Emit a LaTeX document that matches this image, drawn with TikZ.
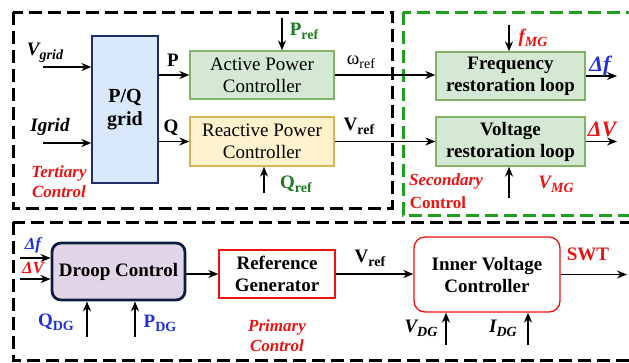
\documentclass[tikz,border=0pt]{standalone}
\usepackage{fontspec}
\setmainfont{Liberation Serif}
\usetikzlibrary{arrows.meta}
\definecolor{gfill}{HTML}{D5E8D4}
\definecolor{gline}{HTML}{82B366}
\definecolor{yfill}{HTML}{FFF2CC}
\definecolor{yline}{HTML}{D6B656}
\definecolor{bfill}{HTML}{DAE8FC}
\definecolor{bline}{HTML}{1F2D6B}
\definecolor{pfill}{HTML}{E1D5E7}
\definecolor{pline}{HTML}{0D1B40}
\definecolor{lred}{HTML}{EE1111}
\definecolor{lgreen}{HTML}{1E7B1E}
\definecolor{lblue}{HTML}{2030E0}
\definecolor{dgreen}{HTML}{1EA01E}
\newcommand\sbs[1]{\raisebox{-0.45ex}{\fontsize{14}{14}\selectfont #1}}
\begin{document}
\begin{tikzpicture}[x=1pt,y=-1pt,
  boxtxt/.style={align=center, inner sep=0pt, font=\fontsize{19}{22}\selectfont},
  gbox/.style={boxtxt, draw=gline, fill=gfill, line width=1.3pt},
  ybox/.style={boxtxt, draw=yline, fill=yfill, line width=1.3pt},
  rbox/.style={boxtxt, draw=lred, fill=white, line width=1.3pt},
  arr/.style={-{Stealth[length=10pt,width=8pt]}, line width=1.4pt},
  lbl/.style={inner sep=0pt, font=\fontsize{19}{22}\selectfont\bfseries},
  blk/.style={draw=black, line width=3pt, dash pattern=on 13pt off 6pt},
  grn/.style={draw=dgreen, line width=3pt, dash pattern=on 13pt off 6pt}]
\useasboundingbox (0,0) rectangle (629,362);
\clip (0,0) rectangle (629,362);
% dashed regions
\draw[blk] (13,12) rectangle (392,208);
\draw[grn] (403,12) rectangle (660,215);
\draw[blk] (13,222) rectangle (660,360);
% blocks
\node[boxtxt, draw=bline, fill=bfill, line width=1.3pt, minimum width=66pt, minimum height=147pt, font=\fontsize{20}{23}\selectfont\bfseries] (pq) at (125,109.5) {P/Q\\grid};
\node[gbox, minimum width=144pt, minimum height=48pt] (apc) at (262,75) {Active Power\\Controller};
\node[ybox, minimum width=144pt, minimum height=49pt] (rpc) at (262,141.5) {Reactive Power\\Controller};
\node[gbox, minimum width=149pt, minimum height=48pt, font=\fontsize{19}{22}\selectfont\bfseries] (frl) at (510.5,76) {Frequency\\restoration loop};
\node[gbox, minimum width=149pt, minimum height=49pt, font=\fontsize{19}{22}\selectfont\bfseries] (vrl) at (510.5,141.5) {Voltage\\restoration loop};
\node[boxtxt, draw=pline, fill=pfill, line width=2.8pt, rounded corners=9pt, minimum width=133pt, minimum height=57pt, font=\fontsize{19}{22}\selectfont\bfseries] (droop) at (118.5,271.5) {Droop Control};
\node[rbox, minimum width=116pt, minimum height=48pt, font=\fontsize{19}{22}\selectfont\bfseries] (rg) at (277,274) {Reference\\Generator};
\node[rbox, rounded corners=11pt, minimum width=146pt, minimum height=75pt, font=\fontsize{19}{22}\selectfont\bfseries] (ivc) at (487,274.5) {Inner Voltage\\Controller};
% free ends
\coordinate (vg) at (43,67);
\coordinate (ig) at (43,143);
\coordinate (pr) at (282,18);
\coordinate (qr) at (264,193);
\coordinate (fm) at (509,25);
\coordinate (vm) at (509,198);
\coordinate (dfo) at (617,76);
\coordinate (dvo) at (617,141.5);
\coordinate (dfi) at (20,258);
\coordinate (dvi) at (20,279);
\coordinate (qd) at (87,337);
\coordinate (pd) at (135,337);
\coordinate (sw) at (627,274.5);
\coordinate (vd) at (446,345);
\coordinate (id) at (528,345);
% connectors
\draw[arr] (vg) -- (vg -| pq.west);
\draw[arr] (ig) -- (ig -| pq.west);
\draw[arr] (apc.west -| pq.east) -- (apc.west);
\draw[arr] (rpc.west -| pq.east) -- (rpc.west);
\draw[arr] (pr) -- (pr |- apc.north);
\draw[arr] (qr) -- (qr |- rpc.south);
\draw[arr] (apc.east) -- (apc.east -| frl.west);
\draw[arr] (rpc.east) -- (rpc.east -| vrl.west);
\draw[arr] (fm) -- (fm |- frl.north);
\draw[arr] (vm) -- (vm |- vrl.south);
\draw[arr] (frl.east) -- (dfo);
\draw[arr] (vrl.east) -- (dvo);
\draw[arr] (dfi) -- (dfi -| droop.west);
\draw[arr] (dvi) -- (dvi -| droop.west);
\draw[arr] (qd) -- (qd |- droop.south);
\draw[arr] (pd) -- (pd |- droop.south);
\draw[arr] (droop.east |- rg.west) -- (rg.west);
\draw[arr] (rg.east) -- (rg.east -| ivc.west);
\draw[arr] (ivc.east) -- (sw);
\draw[arr] (vd) -- (vd |- ivc.south);
\draw[arr] (id) -- (id |- ivc.south);
% labels
\node[lbl] (lvg) at (45,53) {\itshape V\sbs{grid}};
\node[lbl] (lig) at (50,127) {\itshape Igrid};
\node[lbl] (lp) at (173,60) {P};
\node[lbl] (lq) at (171,128) {Q};
\node[lbl, text=lgreen] (lpr) at (304,31) {P\sbs{ref}};
\node[lbl, text=lgreen] (lqr) at (296,184) {Q\sbs{ref}};
\node[lbl, font=\fontsize{19}{22}\selectfont] (lw) at (361,62) {ω\sbs{ref}};
\node[lbl] (lvr) at (359,126) {V\sbs{ref}};
\node[lbl, text=lred] (lfm) at (533,38) {\itshape f\sbs{MG}};
\node[lbl, text=lblue, font=\fontsize{22}{24}\selectfont\bfseries] (ldf) at (600,66) {\itshape Δf};
\node[lbl, text=lred, font=\fontsize{22}{24}\selectfont\bfseries] (ldv) at (602,129) {\itshape ΔV};
\node[lbl, text=lred] (lvm) at (556,184) {\itshape V\sbs{MG}};
\node[lbl, text=lred, font=\fontsize{17}{20}\selectfont\bfseries] (lsec) at (446,181) {\itshape Secondary};
\node[lbl, text=lred, font=\fontsize{17}{20}\selectfont\bfseries] (lsec2) at (438,203) {Control};
\node[lbl, text=lred, font=\fontsize{17}{20}\selectfont\bfseries\itshape, align=center] (lter) at (59,182) {Tertiary\\Control};
\node[lbl, text=lblue, font=\fontsize{17}{20}\selectfont\bfseries] (ldf2) at (33,245) {\itshape Δf};
\node[lbl, text=lred, font=\fontsize{17}{20}\selectfont\bfseries] (ldv2) at (33,268) {\itshape ΔV};
\node[lbl, text=lblue] (lqd) at (56,322) {Q\sbs{DG}};
\node[lbl, text=lblue] (lpd) at (160,323) {P\sbs{DG}};
\node[lbl, text=lred, font=\fontsize{17}{20}\selectfont\bfseries\itshape, align=center] (lpri) at (277,336) {Primary\\Control};
\node[lbl] (lvr2) at (370,258) {V\sbs{ref}};
\node[lbl, text=lred] (lsw) at (588,254) {SWT};
\node[lbl] (lvd) at (421,328) {\itshape V\sbs{DG}};
\node[lbl] (lid) at (503,328) {\itshape I\sbs{DG}};
\end{tikzpicture}
\end{document}
